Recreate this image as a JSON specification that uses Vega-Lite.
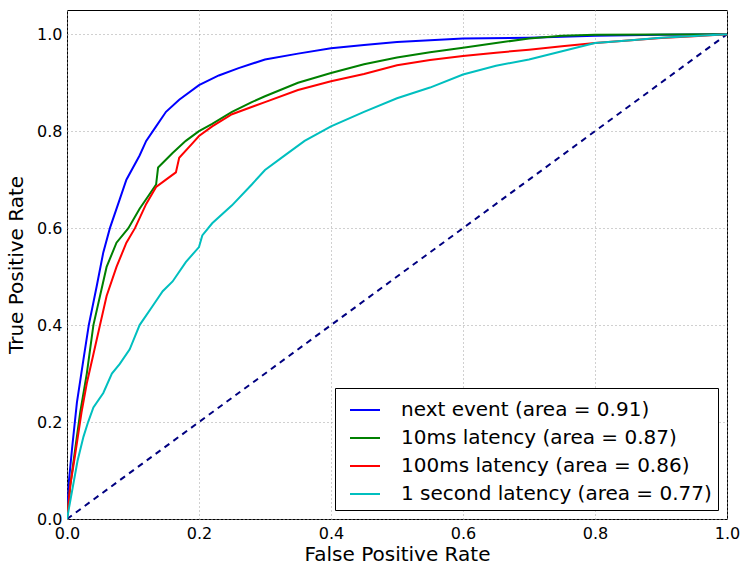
{
  "$schema": "https://vega.github.io/schema/vega-lite/v6.json",
  "width": 660,
  "height": 509,
  "autosize": {"type": "none"},
  "padding": {"left": 67, "top": 10, "right": 14, "bottom": 46},
  "background": "white",
  "config": {
    "font": "DejaVu Sans",
    "view": {"stroke": "black", "strokeWidth": 1},
    "axis": {
      "domain": false,
      "ticks": false,
      "grid": true,
      "gridColor": "#a0a0a0",
      "gridDash": [1, 3],
      "gridWidth": 1,
      "labelFont": "DejaVu Sans",
      "labelFontSize": 16,
      "labelColor": "black",
      "titleFont": "DejaVu Sans",
      "titleFontSize": 20,
      "titleFontWeight": "normal",
      "titleColor": "black"
    }
  },
  "datasets": {
    "roc": [
      {"series": "next event (area = 0.91)", "fpr": 0, "tpr": 0},
      {"series": "next event (area = 0.91)", "fpr": 0.003, "tpr": 0.08},
      {"series": "next event (area = 0.91)", "fpr": 0.008, "tpr": 0.15},
      {"series": "next event (area = 0.91)", "fpr": 0.015, "tpr": 0.24},
      {"series": "next event (area = 0.91)", "fpr": 0.025, "tpr": 0.33},
      {"series": "next event (area = 0.91)", "fpr": 0.033, "tpr": 0.40},
      {"series": "next event (area = 0.91)", "fpr": 0.045, "tpr": 0.48},
      {"series": "next event (area = 0.91)", "fpr": 0.055, "tpr": 0.55},
      {"series": "next event (area = 0.91)", "fpr": 0.065, "tpr": 0.60},
      {"series": "next event (area = 0.91)", "fpr": 0.08, "tpr": 0.66},
      {"series": "next event (area = 0.91)", "fpr": 0.09, "tpr": 0.70},
      {"series": "next event (area = 0.91)", "fpr": 0.11, "tpr": 0.75},
      {"series": "next event (area = 0.91)", "fpr": 0.12, "tpr": 0.78},
      {"series": "next event (area = 0.91)", "fpr": 0.135, "tpr": 0.81},
      {"series": "next event (area = 0.91)", "fpr": 0.15, "tpr": 0.84},
      {"series": "next event (area = 0.91)", "fpr": 0.17, "tpr": 0.865},
      {"series": "next event (area = 0.91)", "fpr": 0.2, "tpr": 0.895},
      {"series": "next event (area = 0.91)", "fpr": 0.23, "tpr": 0.915},
      {"series": "next event (area = 0.91)", "fpr": 0.26, "tpr": 0.93},
      {"series": "next event (area = 0.91)", "fpr": 0.3, "tpr": 0.948},
      {"series": "next event (area = 0.91)", "fpr": 0.35, "tpr": 0.96},
      {"series": "next event (area = 0.91)", "fpr": 0.4, "tpr": 0.971},
      {"series": "next event (area = 0.91)", "fpr": 0.45, "tpr": 0.978},
      {"series": "next event (area = 0.91)", "fpr": 0.5, "tpr": 0.984},
      {"series": "next event (area = 0.91)", "fpr": 0.6, "tpr": 0.991},
      {"series": "next event (area = 0.91)", "fpr": 0.7, "tpr": 0.993},
      {"series": "next event (area = 0.91)", "fpr": 0.8, "tpr": 0.997},
      {"series": "next event (area = 0.91)", "fpr": 0.9, "tpr": 0.999},
      {"series": "next event (area = 0.91)", "fpr": 1, "tpr": 1},

      {"series": "10ms latency (area = 0.87)", "fpr": 0, "tpr": 0},
      {"series": "10ms latency (area = 0.87)", "fpr": 0.005, "tpr": 0.07},
      {"series": "10ms latency (area = 0.87)", "fpr": 0.012, "tpr": 0.14},
      {"series": "10ms latency (area = 0.87)", "fpr": 0.02, "tpr": 0.22},
      {"series": "10ms latency (area = 0.87)", "fpr": 0.03, "tpr": 0.30},
      {"series": "10ms latency (area = 0.87)", "fpr": 0.04, "tpr": 0.40},
      {"series": "10ms latency (area = 0.87)", "fpr": 0.05, "tpr": 0.46},
      {"series": "10ms latency (area = 0.87)", "fpr": 0.06, "tpr": 0.52},
      {"series": "10ms latency (area = 0.87)", "fpr": 0.075, "tpr": 0.57},
      {"series": "10ms latency (area = 0.87)", "fpr": 0.093, "tpr": 0.60},
      {"series": "10ms latency (area = 0.87)", "fpr": 0.11, "tpr": 0.64},
      {"series": "10ms latency (area = 0.87)", "fpr": 0.125, "tpr": 0.67},
      {"series": "10ms latency (area = 0.87)", "fpr": 0.135, "tpr": 0.69},
      {"series": "10ms latency (area = 0.87)", "fpr": 0.138, "tpr": 0.725},
      {"series": "10ms latency (area = 0.87)", "fpr": 0.16, "tpr": 0.755},
      {"series": "10ms latency (area = 0.87)", "fpr": 0.18, "tpr": 0.78},
      {"series": "10ms latency (area = 0.87)", "fpr": 0.2, "tpr": 0.80},
      {"series": "10ms latency (area = 0.87)", "fpr": 0.22, "tpr": 0.815},
      {"series": "10ms latency (area = 0.87)", "fpr": 0.25, "tpr": 0.84},
      {"series": "10ms latency (area = 0.87)", "fpr": 0.28, "tpr": 0.86},
      {"series": "10ms latency (area = 0.87)", "fpr": 0.3, "tpr": 0.872},
      {"series": "10ms latency (area = 0.87)", "fpr": 0.35, "tpr": 0.9},
      {"series": "10ms latency (area = 0.87)", "fpr": 0.4, "tpr": 0.92},
      {"series": "10ms latency (area = 0.87)", "fpr": 0.45, "tpr": 0.938},
      {"series": "10ms latency (area = 0.87)", "fpr": 0.5, "tpr": 0.952},
      {"series": "10ms latency (area = 0.87)", "fpr": 0.55, "tpr": 0.963},
      {"series": "10ms latency (area = 0.87)", "fpr": 0.6, "tpr": 0.972},
      {"series": "10ms latency (area = 0.87)", "fpr": 0.65, "tpr": 0.982},
      {"series": "10ms latency (area = 0.87)", "fpr": 0.7, "tpr": 0.991},
      {"series": "10ms latency (area = 0.87)", "fpr": 0.75, "tpr": 0.997},
      {"series": "10ms latency (area = 0.87)", "fpr": 0.8, "tpr": 0.999},
      {"series": "10ms latency (area = 0.87)", "fpr": 1, "tpr": 1},

      {"series": "100ms latency (area = 0.86)", "fpr": 0, "tpr": 0},
      {"series": "100ms latency (area = 0.86)", "fpr": 0.005, "tpr": 0.07},
      {"series": "100ms latency (area = 0.86)", "fpr": 0.012, "tpr": 0.13},
      {"series": "100ms latency (area = 0.86)", "fpr": 0.022, "tpr": 0.22},
      {"series": "100ms latency (area = 0.86)", "fpr": 0.03, "tpr": 0.28},
      {"series": "100ms latency (area = 0.86)", "fpr": 0.04, "tpr": 0.34},
      {"series": "100ms latency (area = 0.86)", "fpr": 0.05, "tpr": 0.40},
      {"series": "100ms latency (area = 0.86)", "fpr": 0.06, "tpr": 0.46},
      {"series": "100ms latency (area = 0.86)", "fpr": 0.075, "tpr": 0.52},
      {"series": "100ms latency (area = 0.86)", "fpr": 0.09, "tpr": 0.57},
      {"series": "100ms latency (area = 0.86)", "fpr": 0.103, "tpr": 0.60},
      {"series": "100ms latency (area = 0.86)", "fpr": 0.12, "tpr": 0.65},
      {"series": "100ms latency (area = 0.86)", "fpr": 0.135, "tpr": 0.685},
      {"series": "100ms latency (area = 0.86)", "fpr": 0.15, "tpr": 0.70},
      {"series": "100ms latency (area = 0.86)", "fpr": 0.165, "tpr": 0.715},
      {"series": "100ms latency (area = 0.86)", "fpr": 0.17, "tpr": 0.745},
      {"series": "100ms latency (area = 0.86)", "fpr": 0.19, "tpr": 0.775},
      {"series": "100ms latency (area = 0.86)", "fpr": 0.2, "tpr": 0.79},
      {"series": "100ms latency (area = 0.86)", "fpr": 0.22, "tpr": 0.81},
      {"series": "100ms latency (area = 0.86)", "fpr": 0.25, "tpr": 0.835},
      {"series": "100ms latency (area = 0.86)", "fpr": 0.3, "tpr": 0.86},
      {"series": "100ms latency (area = 0.86)", "fpr": 0.35, "tpr": 0.885},
      {"series": "100ms latency (area = 0.86)", "fpr": 0.4, "tpr": 0.903},
      {"series": "100ms latency (area = 0.86)", "fpr": 0.45, "tpr": 0.918},
      {"series": "100ms latency (area = 0.86)", "fpr": 0.5, "tpr": 0.936},
      {"series": "100ms latency (area = 0.86)", "fpr": 0.55, "tpr": 0.947},
      {"series": "100ms latency (area = 0.86)", "fpr": 0.6, "tpr": 0.955},
      {"series": "100ms latency (area = 0.86)", "fpr": 0.65, "tpr": 0.962},
      {"series": "100ms latency (area = 0.86)", "fpr": 0.7, "tpr": 0.968},
      {"series": "100ms latency (area = 0.86)", "fpr": 0.75, "tpr": 0.975},
      {"series": "100ms latency (area = 0.86)", "fpr": 0.8, "tpr": 0.982},
      {"series": "100ms latency (area = 0.86)", "fpr": 0.85, "tpr": 0.987},
      {"series": "100ms latency (area = 0.86)", "fpr": 0.9, "tpr": 0.992},
      {"series": "100ms latency (area = 0.86)", "fpr": 0.95, "tpr": 0.996},
      {"series": "100ms latency (area = 0.86)", "fpr": 1, "tpr": 1},

      {"series": "1 second latency (area = 0.77)", "fpr": 0, "tpr": 0},
      {"series": "1 second latency (area = 0.77)", "fpr": 0.008, "tpr": 0.06},
      {"series": "1 second latency (area = 0.77)", "fpr": 0.016, "tpr": 0.12},
      {"series": "1 second latency (area = 0.77)", "fpr": 0.025, "tpr": 0.17},
      {"series": "1 second latency (area = 0.77)", "fpr": 0.032, "tpr": 0.2},
      {"series": "1 second latency (area = 0.77)", "fpr": 0.04, "tpr": 0.23},
      {"series": "1 second latency (area = 0.77)", "fpr": 0.055, "tpr": 0.26},
      {"series": "1 second latency (area = 0.77)", "fpr": 0.068, "tpr": 0.3},
      {"series": "1 second latency (area = 0.77)", "fpr": 0.08, "tpr": 0.32},
      {"series": "1 second latency (area = 0.77)", "fpr": 0.095, "tpr": 0.35},
      {"series": "1 second latency (area = 0.77)", "fpr": 0.11, "tpr": 0.40},
      {"series": "1 second latency (area = 0.77)", "fpr": 0.13, "tpr": 0.44},
      {"series": "1 second latency (area = 0.77)", "fpr": 0.145, "tpr": 0.47},
      {"series": "1 second latency (area = 0.77)", "fpr": 0.16, "tpr": 0.49},
      {"series": "1 second latency (area = 0.77)", "fpr": 0.18, "tpr": 0.53},
      {"series": "1 second latency (area = 0.77)", "fpr": 0.2, "tpr": 0.561},
      {"series": "1 second latency (area = 0.77)", "fpr": 0.205, "tpr": 0.585},
      {"series": "1 second latency (area = 0.77)", "fpr": 0.22, "tpr": 0.61},
      {"series": "1 second latency (area = 0.77)", "fpr": 0.25, "tpr": 0.647},
      {"series": "1 second latency (area = 0.77)", "fpr": 0.28, "tpr": 0.69},
      {"series": "1 second latency (area = 0.77)", "fpr": 0.3, "tpr": 0.72},
      {"series": "1 second latency (area = 0.77)", "fpr": 0.33, "tpr": 0.75},
      {"series": "1 second latency (area = 0.77)", "fpr": 0.36, "tpr": 0.78},
      {"series": "1 second latency (area = 0.77)", "fpr": 0.4, "tpr": 0.81},
      {"series": "1 second latency (area = 0.77)", "fpr": 0.45, "tpr": 0.84},
      {"series": "1 second latency (area = 0.77)", "fpr": 0.5, "tpr": 0.868},
      {"series": "1 second latency (area = 0.77)", "fpr": 0.55, "tpr": 0.89},
      {"series": "1 second latency (area = 0.77)", "fpr": 0.6, "tpr": 0.917},
      {"series": "1 second latency (area = 0.77)", "fpr": 0.65, "tpr": 0.935},
      {"series": "1 second latency (area = 0.77)", "fpr": 0.7, "tpr": 0.948},
      {"series": "1 second latency (area = 0.77)", "fpr": 0.75, "tpr": 0.965},
      {"series": "1 second latency (area = 0.77)", "fpr": 0.8, "tpr": 0.982},
      {"series": "1 second latency (area = 0.77)", "fpr": 0.85, "tpr": 0.987},
      {"series": "1 second latency (area = 0.77)", "fpr": 0.9, "tpr": 0.993},
      {"series": "1 second latency (area = 0.77)", "fpr": 1, "tpr": 1}
    ],
    "diag": [
      {"fpr": 0, "tpr": 0},
      {"fpr": 1, "tpr": 1}
    ]
  },
  "layer": [
    {
      "data": {"name": "diag"},
      "mark": {"type": "line", "color": "#000080", "strokeWidth": 2, "strokeDash": [6, 5], "clip": true},
      "encoding": {
        "x": {"field": "fpr", "type": "quantitative"},
        "y": {"field": "tpr", "type": "quantitative"}
      }
    },
    {
      "data": {"name": "roc"},
      "mark": {"type": "line", "strokeWidth": 2, "clip": true},
      "encoding": {
        "x": {
          "field": "fpr",
          "type": "quantitative",
          "title": "False Positive Rate",
          "scale": {"domain": [0, 1], "nice": false, "zero": false},
          "axis": {"values": [0, 0.2, 0.4, 0.6, 0.8, 1.0], "format": ".1f", "labelPadding": 6, "titlePadding": 3, "labelFlush": false}
        },
        "y": {
          "field": "tpr",
          "type": "quantitative",
          "title": "True Positive Rate",
          "scale": {"domain": [0, 1.05], "nice": false, "zero": false},
          "axis": {"values": [0, 0.2, 0.4, 0.6, 0.8, 1.0], "format": ".1f", "labelPadding": 5, "titlePadding": 10, "labelFlush": false}
        },
        "color": {
          "field": "series",
          "type": "nominal",
          "sort": null,
          "scale": {
            "domain": ["next event (area = 0.91)", "10ms latency (area = 0.87)", "100ms latency (area = 0.86)", "1 second latency (area = 0.77)"],
            "range": ["#0000ff", "#008000", "#ff0000", "#00bfbf"]
          },
          "legend": {
            "title": null,
            "orient": "bottom-right",
            "offset": 9,
            "symbolType": "stroke",
            "symbolSize": 900,
            "symbolStrokeWidth": 2,
            "symbolOffset": 8,
            "labelFont": "DejaVu Sans",
            "labelFontSize": 20,
            "labelColor": "black",
            "labelOffset": 20,
            "labelLimit": 500,
            "rowPadding": 2,
            "padding": 6,
            "strokeColor": "black",
            "fillColor": "white",
            "cornerRadius": 0
          }
        }
      }
    }
  ]
}
